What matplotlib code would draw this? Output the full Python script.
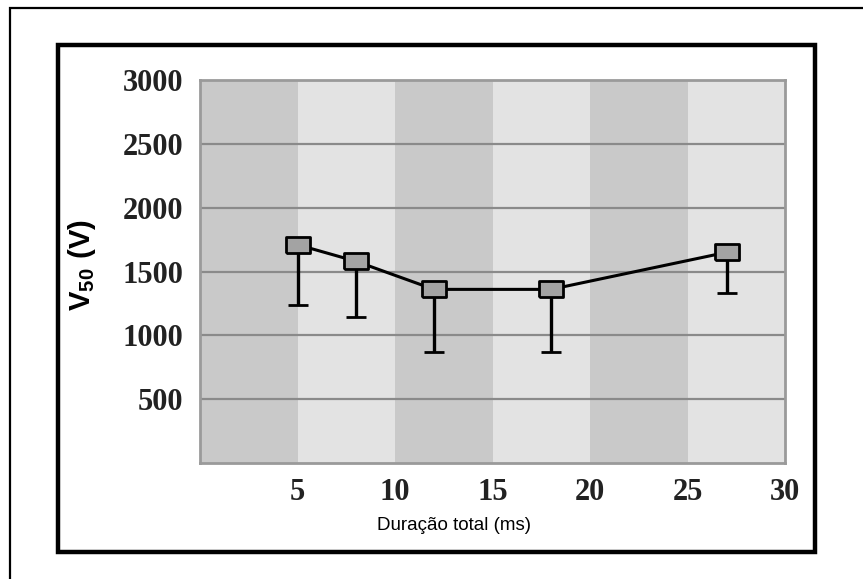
import numpy as np
import matplotlib
matplotlib.use('Agg')
import matplotlib.pyplot as plt
from matplotlib.patches import Rectangle

plt.rcParams['mathtext.fontset'] = 'custom'
plt.rcParams['mathtext.rm'] = 'Liberation Sans'
plt.rcParams['mathtext.bf'] = 'Liberation Sans:bold'

# data
duracao = [5, 8, 12, 18, 27]          # ms
v50 = [1710, 1580, 1360, 1360, 1650]  # V
err_baixo = [470, 435, 490, 490, 320]  # lower error bars only
x_ticks = [5, 10, 15, 20, 25, 30]
y_ticks = [500, 1000, 1500, 2000, 2500, 3000]
faixas = [(0, 5), (5, 10), (10, 15), (15, 20), (20, 25), (25, 30)]

fig = plt.figure(figsize=(8.63, 5.79), dpi=100)
ax = fig.add_axes([200/863, 1-463/579, 585/863, 383/579])

# alternating vertical bands
for i, (a, b) in enumerate(faixas):
    cor = '#c9c9c9' if i % 2 == 0 else '#e3e3e3'
    ax.axvspan(a, b, color=cor, zorder=0, lw=0)

for yv in y_ticks[:-1]:
    ax.axhline(yv, color='#8a8a8a', lw=1.6, zorder=1)

rect_marker = [(-1.4, -1), (1.4, -1), (1.4, 1), (-1.4, 1), (-1.4, -1)]
ax.errorbar(duracao, v50, yerr=[err_baixo, np.zeros(len(err_baixo))],
            color='black', lw=2.2, elinewidth=2.4, capsize=7, capthick=2.4,
            marker=rect_marker, markersize=17, markerfacecolor='#a3a3a3',
            markeredgecolor='black', markeredgewidth=2, zorder=3)

ax.set_xlim(0, 30)
ax.set_ylim(0, 3000)
ax.set_xticks(x_ticks)
ax.set_yticks(y_ticks)
ax.tick_params(length=0)
ax.tick_params(axis='y', pad=12)
ax.tick_params(axis='x', pad=11)
for lab in ax.get_xticklabels() + ax.get_yticklabels():
    lab.set_family('Liberation Serif')
    lab.set_fontweight('bold')
    lab.set_fontsize(22)
    lab.set_color('#222222')
for s in ax.spines.values():
    s.set_color('#9a9a9a')
    s.set_linewidth(2)

ax.set_xlabel('Duração total (ms)', family=['Liberation Sans Narrow', 'Liberation Sans'],
              fontsize=13.5)
ax.xaxis.set_label_coords((454-200)/585, -(517-463)/383)
ax.set_ylabel(r'$\mathbf{V_{50}}$ $\mathbf{(V)}$', fontsize=21)
ax.yaxis.set_label_coords(-(200-98)/585, (463-265)/383)

# frames
fig.patches.append(Rectangle((58/863, 1-552/579), 757/863, 507/579,
                             transform=fig.transFigure, fill=False,
                             ec='black', lw=3.2))
fig.patches.append(Rectangle((10/863, -0.1), 1.0, 1-8/579+0.1,
                             transform=fig.transFigure, fill=False,
                             ec='black', lw=1.6))

fig.savefig('out.png', dpi=100)
